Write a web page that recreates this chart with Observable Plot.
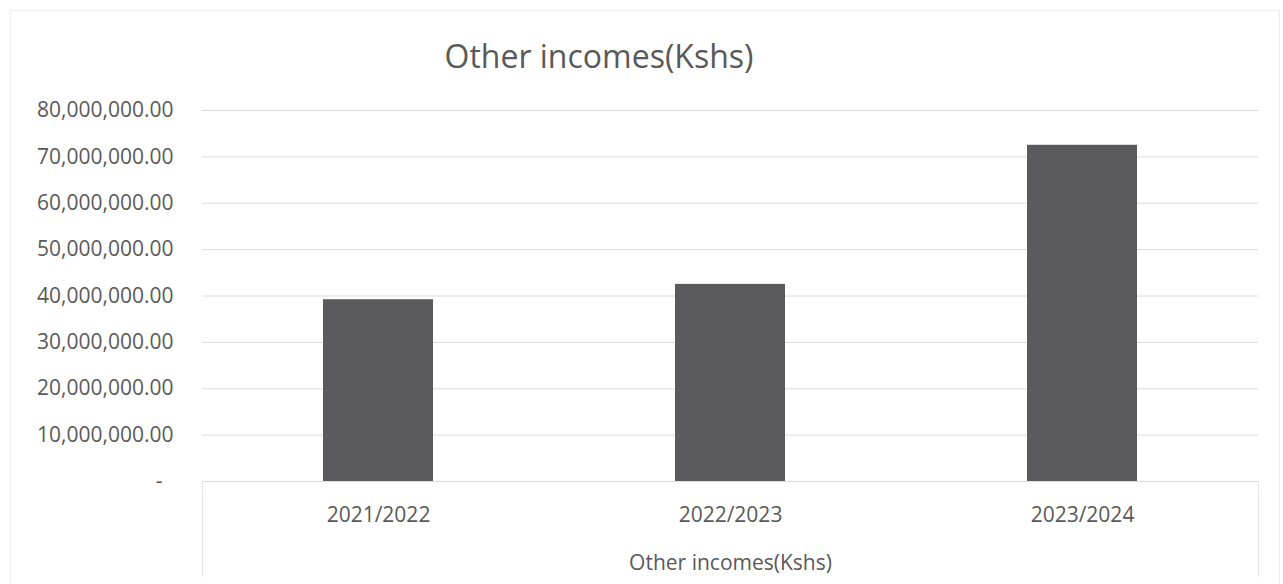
<!DOCTYPE html>
<html><head><meta charset="utf-8">
<script src="https://cdn.jsdelivr.net/npm/d3@7"></script>
<script src="https://cdn.jsdelivr.net/npm/@observablehq/plot@0.6"></script>
<style>
body{margin:0;background:#fff;font-family:"Open Sans",sans-serif;}
#wrap{position:relative;width:1283px;height:584px;overflow:hidden}
#title{position:absolute;left:0;top:34px;width:1198px;text-align:center;font-size:32px;color:#595959;line-height:44px;z-index:2}
#chart{position:absolute;left:0;top:0}
#border{position:absolute;left:10px;top:10px;width:1270px;height:580px;border:1px solid #ededed;box-sizing:border-box}
#catbox{position:absolute;left:202px;top:481px;width:1057px;height:96px;border-left:1px solid #e6e6ef;border-right:1px solid #e6e6ef;box-sizing:border-box}
</style></head><body>
<div id="wrap"><div id="border"></div><div id="catbox"></div><div id="title">Other incomes(Kshs)</div><div id="chart"></div></div>
<script>
const years = ["2021/2022", "2022/2023", "2023/2024"];
const incomes = [39200000, 42500000, 72500000];
const yTicks = [0, 10000000, 20000000, 30000000, 40000000, 50000000, 60000000, 70000000, 80000000];
const axisTitle = "Other incomes(Kshs)";

const data = years.map((y, i) => ({year: y, value: incomes[i]}));
const fmt = d => d === 0 ? "-\u00a0\u00a0" : d3.format(",.2f")(d);

const plot = Plot.plot({
  width: 1283, height: 584,
  marginLeft: 202, marginRight: 25, marginTop: 110, marginBottom: 103,
  style: {fontFamily: "Open Sans", fontSize: "21px", color: "#595959", background: "transparent"},
  x: {domain: years, paddingInner: 0.6875, paddingOuter: 0.34375, label: null},
  y: {domain: [0, 80000000], label: null},
  marks: [
    Plot.gridY(yTicks, {stroke: "#dcdcdc", strokeOpacity: 1}),
    Plot.barY(data, {x: "year", y: "value", fill: "#5a5a5c"}),
    Plot.ruleY([0], {stroke: "#dcdcdc"}),
    Plot.axisY(yTicks, {tickSize: 0, tickPadding: 29, tickFormat: fmt, label: null, fontSize: 21, fill: "#595959"}),
    Plot.axisX({tickSize: 0, tickPadding: 26, fontSize: 21, fill: "#595959", label: axisTitle, labelAnchor: "center", labelOffset: 88})
  ]
});
document.getElementById("chart").appendChild(plot);
</script>
</body></html>
